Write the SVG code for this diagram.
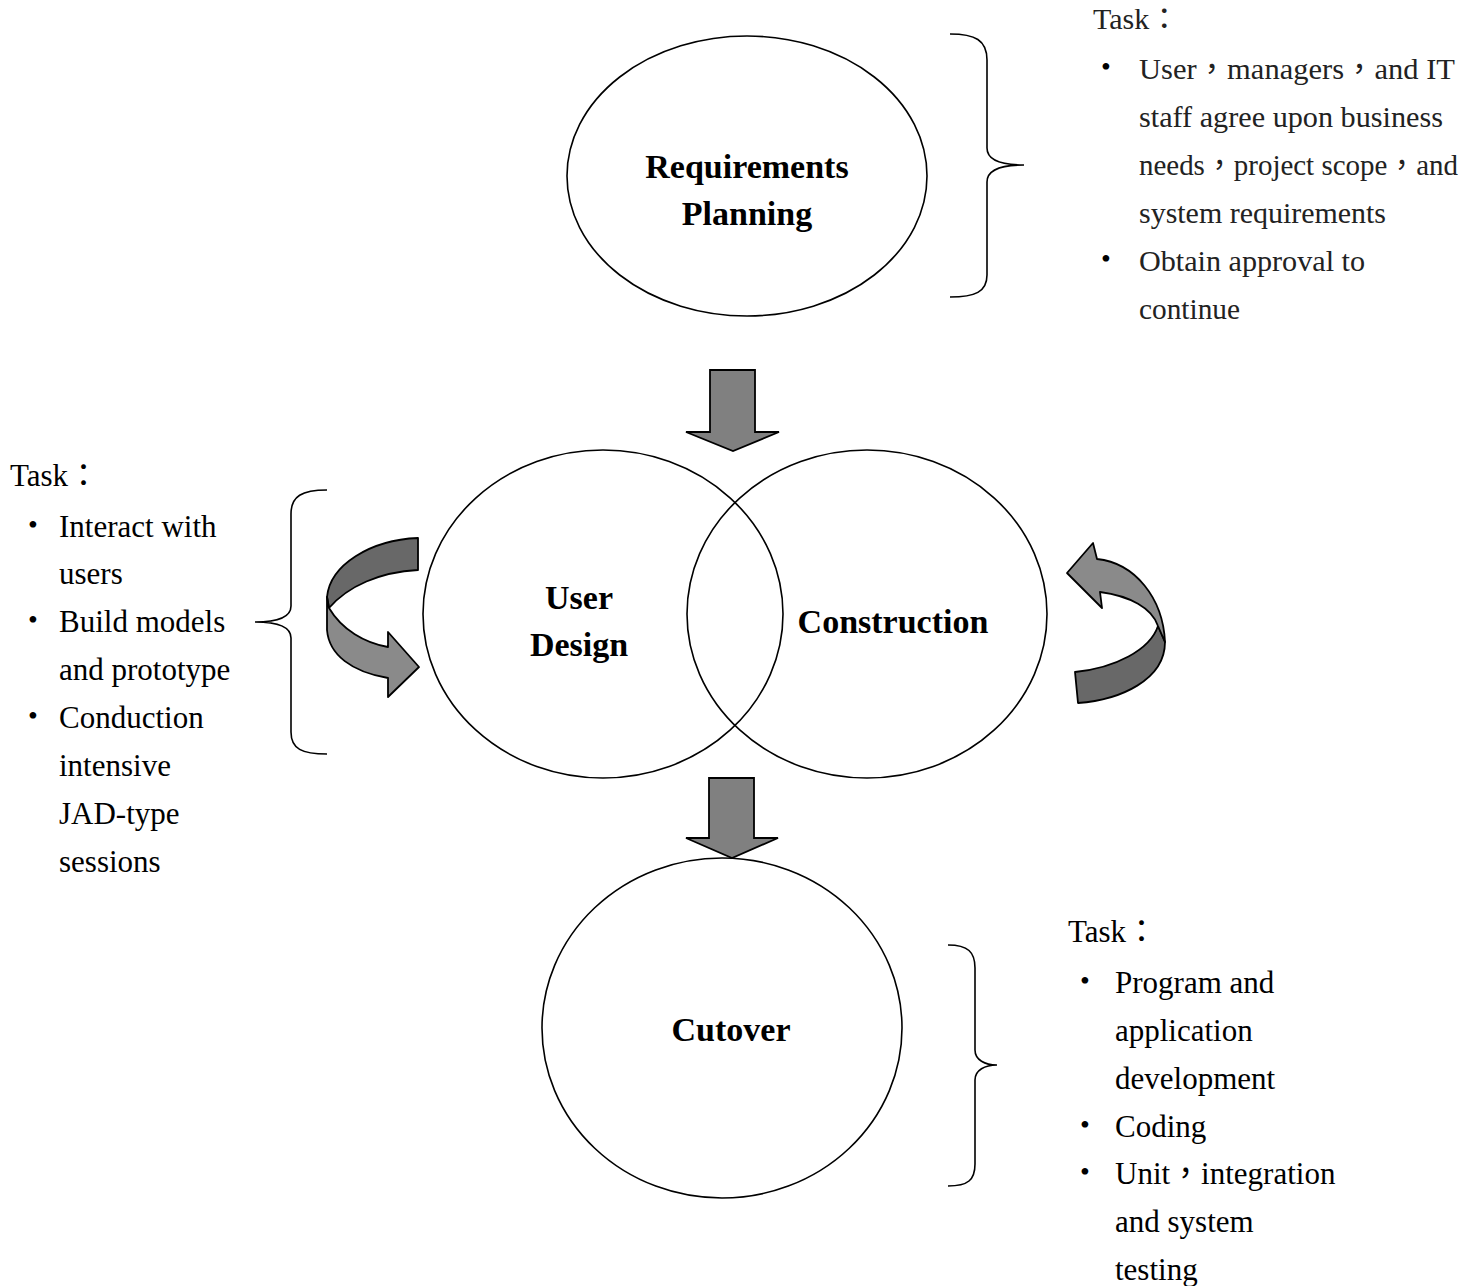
<svg xmlns="http://www.w3.org/2000/svg" width="1478" height="1286" viewBox="0 0 1478 1286">
<style>
.node{fill:#fff;stroke:#000;stroke-width:1.6}
.lbl{font-family:"Liberation Serif","Times New Roman",serif;font-weight:bold;font-size:34px;text-anchor:middle;fill:#000}
.t{font-family:"Liberation Serif","Noto Sans CJK TC",serif;font-size:31px;fill:#000}
.tn{font-family:"Liberation Serif","Noto Sans CJK TC",serif;font-size:30px;fill:#222}
.b{font-family:"Liberation Serif",serif;font-size:28px;text-anchor:middle;fill:#000}
.brace{fill:none;stroke:#000;stroke-width:1.6}
.arr{fill:#808080;stroke:#000;stroke-width:1.8;stroke-linejoin:miter}
.lt{fill:#8a8a8a;stroke:#000;stroke-width:1.8;stroke-linejoin:round}
.dk{fill:#686868;stroke:#000;stroke-width:1.8;stroke-linejoin:round}
</style>
<rect width="1478" height="1286" fill="#fff"/>

<g id="node-requirements">
<ellipse class="node" cx="747" cy="176" rx="180" ry="140"/>
<text class="lbl" x="747" y="178">Requirements</text>
<text class="lbl" x="747" y="225">Planning</text>
</g>

<g id="node-userdesign">
<ellipse class="node" cx="603" cy="614" rx="180" ry="164" fill="none" style="fill:none"/>
<text class="lbl" x="579" y="609">User</text>
<text class="lbl" x="579" y="656">Design</text>
</g>

<g id="node-construction">
<ellipse class="node" cx="867" cy="614" rx="180" ry="164" style="fill:none"/>
<text class="lbl" x="893" y="633">Construction</text>
</g>

<g id="node-cutover">
<ellipse class="node" cx="722" cy="1028" rx="180" ry="170"/>
<text class="lbl" x="731" y="1041">Cutover</text>
</g>

<g id="connectors">
<path class="arr" d="M710,370 L755,370 L755,432 L779,432 L733,451 L686,432 L710,432 Z"/>
<path class="arr" d="M709,778 L754,778 L754,838 L778,838 L732,858 L686,838 L709,838 Z"/>
<!-- left curved arrow -->
<path class="dk" d="M418,538 L418,570 C380,572 348,586 329,608 L327,597 C330,565 370,540 418,538 Z"/>
<path class="lt" d="M329,608 C342,630 365,643 388,647 L388,632 L419,667 L388,697 L388,678 C352,672 329,655 327,630 L327,597 Z"/>
<!-- right curved arrow -->
<path class="dk" d="M1158,626 L1165,642 C1165,680 1120,700 1078,703 L1075,672 C1115,668 1150,650 1158,626 Z"/>
<path class="lt" d="M1097,559 L1093,543 L1067,573 L1102,608 L1100,592 C1130,596 1152,608 1158,626 L1165,642 C1163,598 1135,563 1097,559 Z"/>
</g>

<g id="brace-top">
<path class="brace" d="M950,34 C975,34 987,40 987,60 L987,148 C987,160 1000,165 1024,165 C1000,165 987,170 987,182 L987,275 C987,292 975,297 950,297"/>
</g>
<g id="brace-left">
<path class="brace" d="M327,490 C302,490 291,496 291,514 L291,606 C291,617 278,622 255,622 C278,622 291,627 291,638 L291,732 C291,749 302,754 327,754"/>
</g>
<g id="brace-bottom">
<path class="brace" d="M948,945 C968,945 975,952 975,968 L975,1050 C975,1060 985,1065 997,1065 C985,1065 975,1070 975,1080 L975,1164 C975,1180 968,1186 948,1186"/>
</g>

<g id="text-top">
<text class="tn" x="1093" y="29">Task：</text>
<text class="b" x="1106" y="76">•</text>
<text class="tn" x="1139" y="79" textLength="316" lengthAdjust="spacingAndGlyphs">User，managers，and IT</text>
<text class="tn" x="1139" y="127" textLength="304" lengthAdjust="spacingAndGlyphs">staff agree upon business</text>
<text class="tn" x="1139" y="175" textLength="319" lengthAdjust="spacingAndGlyphs">needs，project scope，and</text>
<text class="tn" x="1139" y="223" textLength="247" lengthAdjust="spacingAndGlyphs">system requirements</text>
<text class="b" x="1106" y="268">•</text>
<text class="tn" x="1139" y="271" textLength="226" lengthAdjust="spacingAndGlyphs">Obtain approval to</text>
<text class="tn" x="1139" y="319" textLength="101" lengthAdjust="spacingAndGlyphs">continue</text>
</g>

<g id="text-left">
<text class="t" x="10" y="486">Task：</text>
<text class="b" x="33" y="534">•</text>
<text class="t" x="59" y="537">Interact with</text>
<text class="t" x="59" y="584">users</text>
<text class="b" x="33" y="629">•</text>
<text class="t" x="59" y="632">Build models</text>
<text class="t" x="59" y="680">and prototype</text>
<text class="b" x="33" y="725">•</text>
<text class="t" x="59" y="728">Conduction</text>
<text class="t" x="59" y="776">intensive</text>
<text class="t" x="59" y="824">JAD-type</text>
<text class="t" x="59" y="872">sessions</text>
</g>

<g id="text-bottom">
<text class="t" x="1068" y="942">Task：</text>
<text class="b" x="1085" y="990">•</text>
<text class="t" x="1115" y="993">Program and</text>
<text class="t" x="1115" y="1041">application</text>
<text class="t" x="1115" y="1089">development</text>
<text class="b" x="1085" y="1134">•</text>
<text class="t" x="1115" y="1137">Coding</text>
<text class="b" x="1085" y="1181">•</text>
<text class="t" x="1115" y="1184">Unit，integration</text>
<text class="t" x="1115" y="1232">and system</text>
<text class="t" x="1115" y="1280">testing</text>
</g>
</svg>
